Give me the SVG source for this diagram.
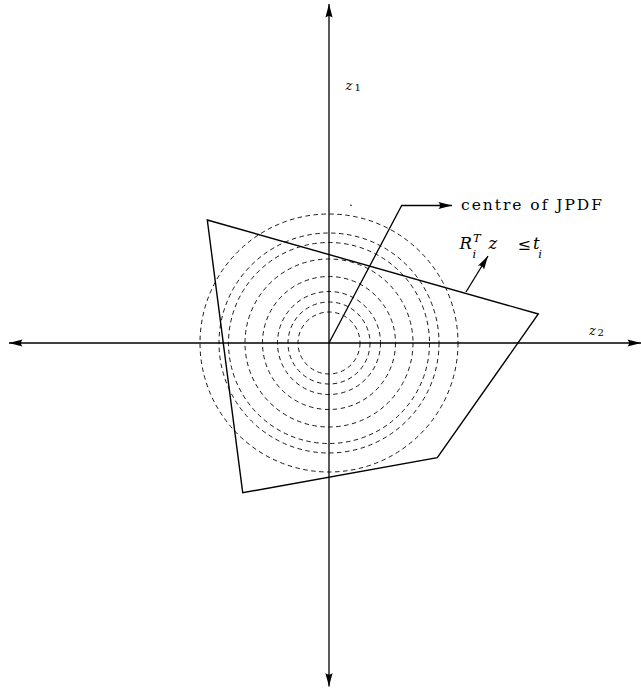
<svg xmlns="http://www.w3.org/2000/svg" width="641" height="689" viewBox="0 0 641 689">
<style>
.ax{stroke:#000;stroke-width:1.3;fill:none}
.poly{stroke:#000;stroke-width:1.4;fill:none;stroke-linejoin:miter}
.circ{stroke:#000;stroke-width:0.9;fill:none;stroke-dasharray:4.5 3.5}
.rm{font-family:"DejaVu Serif","Liberation Serif",serif;fill:#000}
.it{font-family:"DejaVu Serif","Liberation Serif",serif;font-style:italic;fill:#000}
</style>
<defs>
<marker id="ah" markerUnits="userSpaceOnUse" markerWidth="16" markerHeight="10" viewBox="-14 -5 16 10" refX="0" refY="0" orient="auto">
<path d="M0,0 L-13.5,-3.6 Q-10.5,0 -13.5,3.6 Z" fill="#000"/>
</marker>
</defs>
<g id="circles">
<circle class="circ" cx="329" cy="343" r="31"/>
<circle class="circ" cx="329" cy="343" r="41"/>
<circle class="circ" cx="329" cy="343" r="51.5"/>
<circle class="circ" cx="329" cy="343" r="66.5"/>
<circle class="circ" cx="329" cy="343" r="84"/>
<circle class="circ" cx="329" cy="343" r="100.5"/>
<circle class="circ" cx="329" cy="343" r="110"/>
<circle class="circ" cx="329" cy="343" r="129"/>
</g>
<g id="polygon">
<polygon class="poly" points="207.3,220 538.3,314 437.3,457.7 242.7,492.7"/>
</g>
<g id="connectors">
<line class="ax" x1="329" y1="343" x2="329" y2="4" marker-end="url(#ah)"/>
<line class="ax" x1="329" y1="343" x2="329" y2="686.5" marker-end="url(#ah)"/>
<line class="ax" x1="329" y1="343" x2="9" y2="343" marker-end="url(#ah)"/>
<line class="ax" x1="329" y1="343" x2="641" y2="343" marker-end="url(#ah)"/>
<polyline class="ax" points="329,343 401.7,205.5 452,205.5" stroke-width="1.1" marker-end="url(#ah)"/>
<line class="ax" x1="466" y1="292" x2="488" y2="256" stroke-width="1.1" marker-end="url(#ah)"/>
<circle cx="351" cy="205.3" r="0.8" fill="#000"/>
</g>
<g id="label-z1">
<text class="it" x="345.5" y="90" font-size="13">z</text>
<text class="rm" x="354.5" y="91" font-size="10">1</text>
</g>
<g id="label-z2">
<text class="it" x="589" y="334.5" font-size="13">z</text>
<text class="rm" x="597.5" y="335.5" font-size="10">2</text>
</g>
<g id="label-jpdf">
<text class="rm" x="461" y="209.5" font-size="15.5" textLength="141" lengthAdjust="spacing">centre of JPDF</text>
</g>
<g id="label-constraint">
<text class="it" x="459.5" y="249" font-size="16.5">R</text>
<text class="it" x="473" y="242" font-size="11.5">T</text>
<text class="it" x="472.5" y="257.5" font-size="11.5">i</text>
<text class="it" x="488.5" y="249" font-size="16.5">z</text>
<text class="rm" x="517.5" y="250" font-size="16">≤</text>
<text class="it" x="533" y="249" font-size="16.5">t</text>
<text class="it" x="538.3" y="257.5" font-size="11.5">i</text>
</g>
</svg>
